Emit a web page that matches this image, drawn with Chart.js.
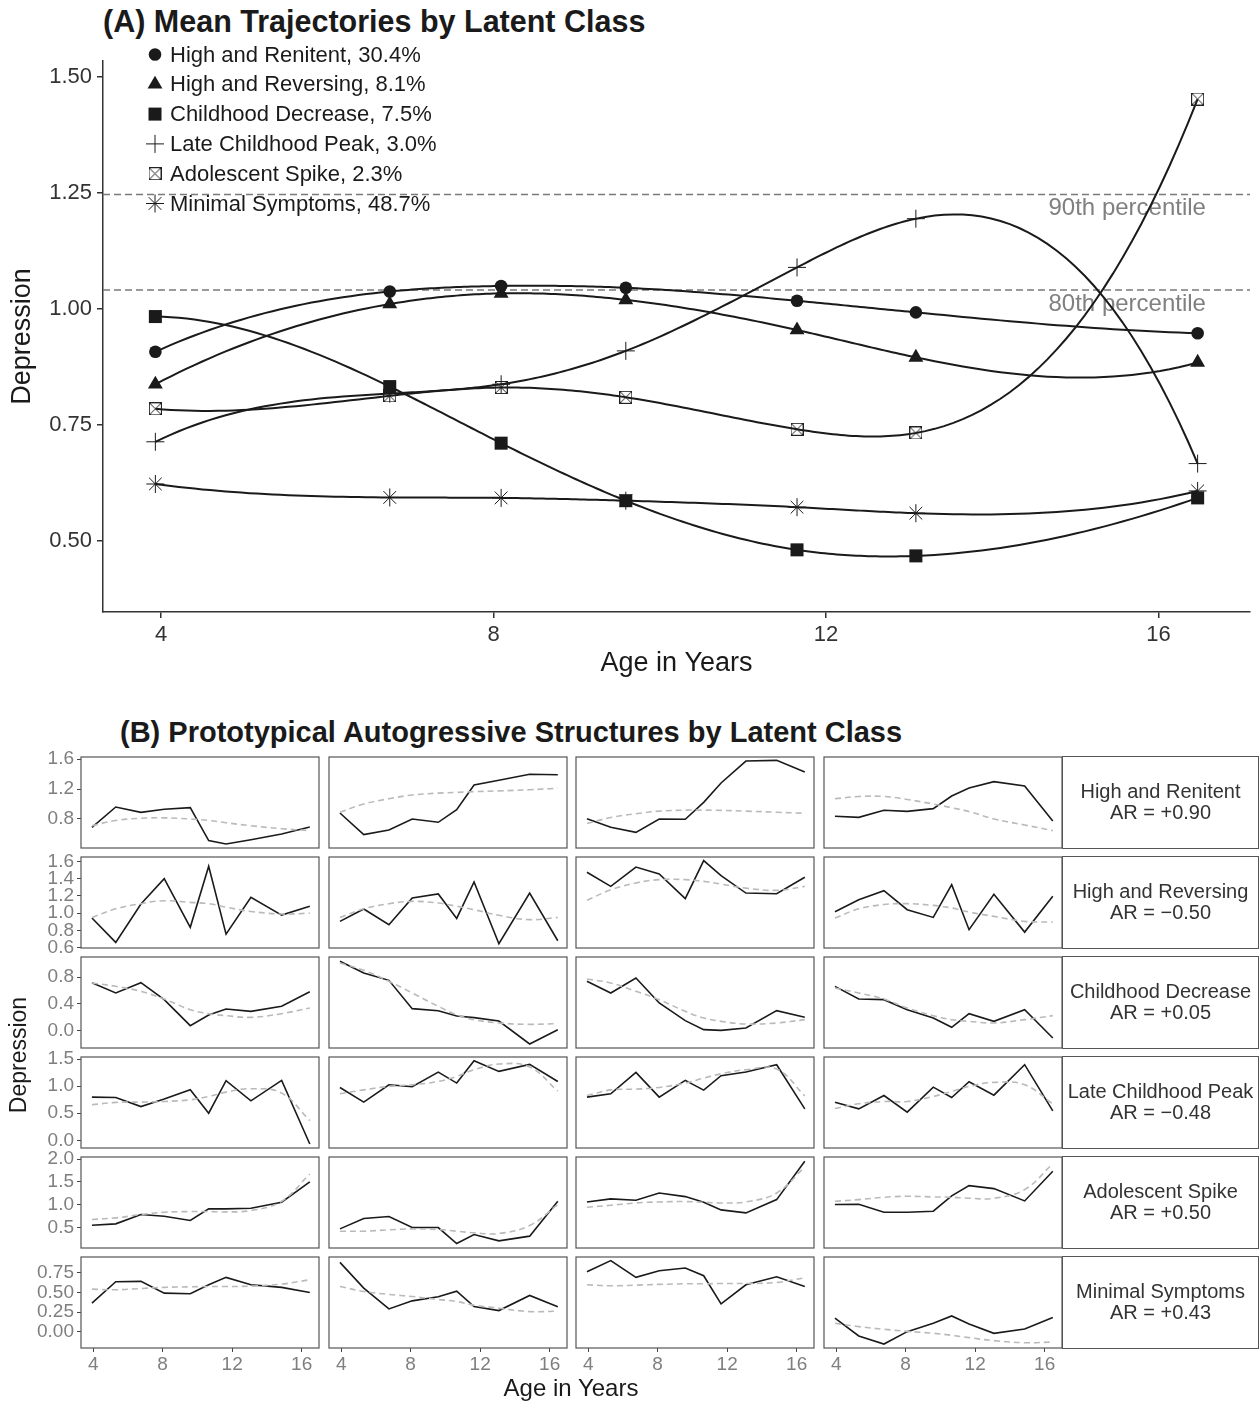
<!DOCTYPE html>
<html>
<head>
<meta charset="utf-8">
<script src="https://cdn.jsdelivr.net/npm/chart.js@4.4.1/dist/chart.umd.min.js"></script>
<style>
  body { margin: 0; background: #fff; width: 1260px; height: 1404px; position: relative; overflow: hidden;
         font-family: "Liberation Sans", Arial, sans-serif; }
  canvas { position: absolute; }
  .txt { position: absolute; white-space: nowrap; color: #1a1a1a; }
  .title { font-weight: bold; line-height: 30px; }
  .strip { position: absolute; box-sizing: border-box; border: 1.2px solid #555; display: flex;
           align-items: center; justify-content: center; text-align: center;
           font-size: 20px; line-height: 21px; color: #333; }
</style>
</head>
<body>
<div class="txt title" style="left:103px;top:6px;font-size:30.5px">(A) Mean Trajectories by Latent Class</div>
<canvas id="mainChart" width="1260" height="690" style="left:0;top:0"></canvas>
<div class="txt title" style="left:120px;top:717px;font-size:29px">(B) Prototypical Autogressive Structures by Latent Class</div>
<div id="grid"></div>
<div class="txt" style="left:-82px;top:1043px;width:200px;text-align:center;font-size:23px;line-height:24px;transform:rotate(-90deg)">Depression</div>
<div class="txt" style="left:471px;top:1376px;width:200px;text-align:center;font-size:24px;line-height:24px">Age in Years</div>

<script>
// ---------- panel A data ----------
const agesA = [3.93, 6.75, 8.09, 9.59, 11.65, 13.08, 16.47];
const highRenitent = [0.908, 1.038, 1.050, 1.046, 1.018, 0.993, 0.948];
const highReversing = [0.838, 1.011, 1.034, 1.020, 0.955, 0.896, 0.885];
const childhoodDecrease = [0.984, 0.833, 0.711, 0.587, 0.481, 0.468, 0.593];
const lateChildhoodPeak = [0.714, 0.818, 0.838, 0.910, 1.090, 1.195, 0.667];
const adolescentSpike = [0.785, 0.813, 0.831, 0.810, 0.741, 0.733, 1.453];
const minimalSymptoms = [0.623, 0.594, 0.593, 0.587, 0.573, 0.560, 0.608];
const classLabels = ["High and Renitent, 30.4%", "High and Reversing, 8.1%", "Childhood Decrease, 7.5%",
  "Late Childhood Peak, 3.0%", "Adolescent Spike, 2.3%", "Minimal Symptoms, 48.7%"];
const percentiles = [1.247, 1.041];
const percentileLabels = ["90th percentile", "80th percentile"];
const xTicksA = [4, 8, 12, 16];
const yTicksA = [0.5, 0.75, 1.0, 1.25, 1.5];

// ---------- panel B data ----------
const agesB = [3.93, 5.3, 6.75, 8.09, 9.59, 10.65, 11.65, 13.08, 14.85, 16.47];
const rowNames = ["High and Renitent", "High and Reversing", "Childhood Decrease",
  "Late Childhood Peak", "Adolescent Spike", "Minimal Symptoms"];
const rowAR = ["AR = +0.90", "AR = \u22120.50", "AR = +0.05", "AR = \u22120.48", "AR = +0.50", "AR = +0.43"];

const renitentSolid = [
  [0.689, 0.960, 0.889, 0.929, 0.951, 0.511, 0.467, 0.524, 0.600, 0.693],
  [0.880, 0.591, 0.653, 0.800, 0.756, 0.924, 1.253, 1.316, 1.396, 1.391],
  [0.804, 0.689, 0.622, 0.800, 0.796, 1.022, 1.280, 1.573, 1.582, 1.427],
  [0.836, 0.822, 0.916, 0.902, 0.938, 1.107, 1.213, 1.298, 1.240, 0.773]];
const renitentSmooth = [
  [0.71, 0.78, 0.81, 0.815, 0.80, 0.78, 0.75, 0.71, 0.67, 0.645],
  [0.89, 1.00, 1.07, 1.12, 1.145, 1.155, 1.165, 1.175, 1.19, 1.21],
  [0.74, 0.82, 0.87, 0.905, 0.918, 0.918, 0.915, 0.905, 0.89, 0.876],
  [1.07, 1.10, 1.10, 1.06, 1.0, 0.95, 0.90, 0.80, 0.72, 0.645]];
const reversingSolid = [
  [0.944, 0.662, 1.106, 1.400, 0.836, 1.542, 0.758, 1.183, 0.978, 1.079],
  [0.905, 1.048, 0.866, 1.175, 1.222, 0.940, 1.361, 0.646, 1.233, 0.681],
  [1.473, 1.310, 1.534, 1.453, 1.168, 1.608, 1.434, 1.233, 1.225, 1.415],
  [1.017, 1.156, 1.260, 1.040, 0.951, 1.330, 0.809, 1.218, 0.781, 1.195]];
const reversingSmooth = [
  [0.95, 1.05, 1.11, 1.144, 1.125, 1.11, 1.07, 1.02, 0.99, 1.0],
  [0.95, 1.05, 1.11, 1.137, 1.117, 1.08, 1.04, 0.975, 0.925, 0.95],
  [1.148, 1.27, 1.35, 1.388, 1.388, 1.368, 1.337, 1.29, 1.264, 1.31],
  [0.944, 1.05, 1.10, 1.11, 1.09, 1.06, 1.013, 0.963, 0.905, 0.897]];
const decreaseSolid = [
  [0.715, 0.56, 0.715, 0.46, 0.07, 0.23, 0.32, 0.285, 0.36, 0.58],
  [1.035, 0.86, 0.75, 0.325, 0.295, 0.215, 0.19, 0.14, -0.205, 0.01],
  [0.735, 0.56, 0.785, 0.41, 0.145, 0.01, 0.0, 0.035, 0.295, 0.195],
  [0.66, 0.47, 0.46, 0.31, 0.185, 0.045, 0.25, 0.135, 0.31, -0.115]];
const decreaseSmooth = [
  [0.71, 0.66, 0.585, 0.47, 0.31, 0.25, 0.22, 0.195, 0.25, 0.335],
  [1.01, 0.90, 0.735, 0.56, 0.36, 0.235, 0.16, 0.11, 0.09, 0.10],
  [0.77, 0.71, 0.585, 0.46, 0.285, 0.185, 0.135, 0.095, 0.11, 0.16],
  [0.635, 0.56, 0.47, 0.335, 0.22, 0.16, 0.135, 0.11, 0.16, 0.22]];
const lateSolid = [
  [0.796, 0.79, 0.623, 0.76, 0.932, 0.50, 1.099, 0.728, 1.105, -0.068],
  [0.975, 0.704, 1.025, 0.988, 1.259, 1.056, 1.469, 1.272, 1.401, 1.086],
  [0.796, 0.858, 1.253, 0.796, 1.105, 0.926, 1.191, 1.259, 1.395, 0.58],
  [0.704, 0.58, 0.827, 0.519, 0.981, 0.79, 1.08, 0.833, 1.395, 0.543]];
const lateSmooth = [
  [0.655, 0.70, 0.705, 0.716, 0.747, 0.81, 0.889, 0.951, 0.87, 0.364],
  [0.858, 0.93, 0.994, 1.025, 1.086, 1.179, 1.302, 1.407, 1.352, 0.907],
  [0.827, 0.93, 0.944, 0.975, 1.056, 1.148, 1.228, 1.302, 1.315, 0.821],
  [0.586, 0.673, 0.716, 0.716, 0.809, 0.901, 0.994, 1.068, 1.025, 0.673]];
const spikeSolid = [
  [0.547, 0.577, 0.781, 0.745, 0.65, 0.905, 0.905, 0.92, 1.051, 1.496],
  [0.467, 0.693, 0.737, 0.496, 0.496, 0.146, 0.343, 0.204, 0.307, 1.073],
  [1.058, 1.124, 1.095, 1.255, 1.175, 1.051, 0.883, 0.818, 1.109, 1.949],
  [1.0, 1.007, 0.832, 0.832, 0.854, 1.19, 1.416, 1.35, 1.08, 1.73]];
const spikeSmooth = [
  [0.672, 0.708, 0.781, 0.832, 0.847, 0.847, 0.839, 0.869, 1.073, 1.672],
  [0.416, 0.416, 0.445, 0.467, 0.453, 0.416, 0.380, 0.365, 0.540, 1.0],
  [0.942, 0.985, 1.036, 1.058, 1.066, 1.051, 1.036, 1.058, 1.255, 1.825],
  [1.073, 1.109, 1.161, 1.182, 1.168, 1.161, 1.139, 1.139, 1.328, 1.898]];
const minimalSolid = [
  [0.364, 0.636, 0.640, 0.492, 0.483, 0.597, 0.691, 0.597, 0.564, 0.50],
  [0.881, 0.555, 0.292, 0.394, 0.445, 0.517, 0.322, 0.271, 0.462, 0.318],
  [0.763, 0.903, 0.691, 0.775, 0.809, 0.712, 0.356, 0.597, 0.699, 0.576],
  [0.174, -0.051, -0.153, 0.004, 0.11, 0.203, 0.102, -0.017, 0.038, 0.182]];
const minimalSmooth = [
  [0.542, 0.534, 0.55, 0.564, 0.572, 0.576, 0.576, 0.58, 0.606, 0.661],
  [0.576, 0.513, 0.475, 0.449, 0.411, 0.386, 0.339, 0.301, 0.258, 0.263],
  [0.597, 0.585, 0.593, 0.602, 0.61, 0.61, 0.614, 0.614, 0.627, 0.686],
  [0.11, 0.068, 0.034, 0.008, -0.017, -0.042, -0.072, -0.11, -0.136, -0.127]];

const rowRanges = [[0.413, 1.627], [0.597, 1.65], [-0.265, 1.10], [-0.142, 1.537], [0.047, 2.044], [-0.203, 0.949]];
const rowTicks = [[0.8, 1.2, 1.6], [0.6, 0.8, 1.0, 1.2, 1.4, 1.6], [0.0, 0.4, 0.8],
  [0.0, 0.5, 1.0, 1.5], [0.5, 1.0, 1.5, 2.0], [0.0, 0.25, 0.5, 0.75]];
const rowDecimals = [1, 1, 1, 1, 1, 2];
const xTicksB = [4, 8, 12, 16];

Chart.defaults.font.family = '"Liberation Sans", Arial, sans-serif';

// ---------- panel A ----------
const ink = "#1a1a1a";

const boxX = document.createElement("canvas");
boxX.width = 13; boxX.height = 13;
(function () {
  const c = boxX.getContext("2d");
  c.strokeStyle = "#222"; c.lineWidth = 1;
  c.strokeRect(0.5, 0.5, 12, 12);
  c.beginPath();
  c.moveTo(0.5, 0.5); c.lineTo(12.5, 12.5);
  c.moveTo(12.5, 0.5); c.lineTo(0.5, 12.5);
  c.stroke();
})();

function toPoints(xs, ys) {
  return xs.map((x, i) => ({ x: x, y: ys[i] }));
}

const seriesA = [highRenitent, highReversing, childhoodDecrease, lateChildhoodPeak, adolescentSpike, minimalSymptoms];
const markers = [
  { pointStyle: "circle", radius: 6.3, borderWidth: 0 },
  { pointStyle: "triangle", radius: 8.6, borderWidth: 0 },
  { pointStyle: "rect", radius: 9.2, borderWidth: 0 },
  { pointStyle: "cross", radius: 9, borderWidth: 1 },
  { pointStyle: boxX, radius: 7, borderWidth: 1 },
  { pointStyle: "star", radius: 9, borderWidth: 1 },
];

const datasetsA = seriesA.map((vals, i) => ({
  label: classLabels[i],
  data: toPoints(agesA, vals),
  showLine: false,
  pointStyle: markers[i].pointStyle,
  pointRadius: markers[i].radius,
  pointBorderWidth: markers[i].borderWidth,
  pointBackgroundColor: ink,
  pointBorderColor: ink,
}));

// interpolating cubic spline with FMM end conditions (as R's spline())
function fmmCoef(x, y) {
  const n = x.length, nm1 = n - 1;
  const b = new Array(n).fill(0), c = new Array(n).fill(0), d = new Array(n).fill(0);
  d[0] = x[1] - x[0];
  c[1] = (y[1] - y[0]) / d[0];
  for (let i = 1; i < nm1; i++) {
    d[i] = x[i + 1] - x[i];
    b[i] = 2 * (d[i - 1] + d[i]);
    c[i + 1] = (y[i + 1] - y[i]) / d[i];
    c[i] = c[i + 1] - c[i];
  }
  b[0] = -d[0];
  b[nm1] = -d[n - 2];
  c[0] = c[nm1] = 0;
  if (n > 3) {
    c[0] = c[2] / (x[3] - x[1]) - c[1] / (x[2] - x[0]);
    c[nm1] = c[n - 2] / (x[nm1] - x[n - 3]) - c[n - 3] / (x[n - 2] - x[n - 4]);
    c[0] = c[0] * d[0] * d[0] / (x[3] - x[0]);
    c[nm1] = -c[nm1] * d[n - 2] * d[n - 2] / (x[nm1] - x[n - 4]);
  }
  for (let i = 1; i <= nm1; i++) {
    const t = d[i - 1] / b[i - 1];
    b[i] = b[i] - t * d[i - 1];
    c[i] = c[i] - t * c[i - 1];
  }
  c[nm1] = c[nm1] / b[nm1];
  for (let i = n - 2; i >= 0; i--) c[i] = (c[i] - d[i] * c[i + 1]) / b[i];
  b[nm1] = (y[nm1] - y[n - 2]) / d[n - 2] + d[n - 2] * (c[n - 2] + 2 * c[nm1]);
  for (let i = 0; i < nm1; i++) {
    b[i] = (y[i + 1] - y[i]) / d[i] - d[i] * (c[i + 1] + 2 * c[i]);
    d[i] = (c[i + 1] - c[i]) / d[i];
    c[i] = 3 * c[i];
  }
  c[nm1] = 3 * c[nm1];
  d[nm1] = d[n - 2];
  return { b, c, d };
}

const curvesPlugin = {
  id: "curves",
  beforeDatasetsDraw(chart) {
    const { ctx, chartArea, scales } = chart;
    const x = scales.x, y = scales.y;
    ctx.save();
    ctx.beginPath();
    ctx.rect(chartArea.left, chartArea.top, chartArea.width, chartArea.height);
    ctx.clip();

    // percentile reference lines
    ctx.setLineDash([7, 4]);
    ctx.strokeStyle = "#7a7a7a";
    ctx.lineWidth = 1.5;
    percentiles.forEach((p) => {
      const py = y.getPixelForValue(p);
      ctx.beginPath();
      ctx.moveTo(chartArea.left, py);
      ctx.lineTo(chartArea.right, py);
      ctx.stroke();
    });
    ctx.setLineDash([]);

    ctx.fillStyle = "#808080";
    ctx.font = '24px "Liberation Sans", Arial, sans-serif';
    ctx.textAlign = "right";
    ctx.textBaseline = "middle";
    percentiles.forEach((p, i) => {
      ctx.fillText(percentileLabels[i], x.getPixelForValue(16.57), y.getPixelForValue(p) + 14);
    });

    ctx.strokeStyle = ink;
    ctx.lineWidth = 2;
    chart.data.datasets.forEach((ds) => {
      const xs = ds.data.map((p) => p.x), ys = ds.data.map((p) => p.y);
      const k = fmmCoef(xs, ys);
      ctx.beginPath();
      for (let i = 0; i < xs.length - 1; i++) {
        for (let s = 0; s <= 30; s++) {
          const dx = (xs[i + 1] - xs[i]) * s / 30;
          const v = ys[i] + dx * (k.b[i] + dx * (k.c[i] + dx * k.d[i]));
          const px = x.getPixelForValue(xs[i] + dx), py = y.getPixelForValue(v);
          if (i === 0 && s === 0) ctx.moveTo(px, py); else ctx.lineTo(px, py);
        }
      }
      ctx.stroke();
    });
    ctx.restore();
  },
};

const legendPlugin = {
  id: "classLegend",
  afterDraw(chart) {
    const ctx = chart.ctx;
    ctx.save();
    chart.data.datasets.forEach((ds, i) => {
      const ly = 54.5 + i * 29.8;
      ctx.fillStyle = ink;
      ctx.strokeStyle = ink;
      ctx.lineWidth = ds.pointBorderWidth || 1;
      Chart.helpers.drawPoint(ctx, {
        pointStyle: ds.pointStyle, radius: ds.pointRadius,
        borderWidth: ds.pointBorderWidth, rotation: 0,
      }, 155, ly);
      ctx.fillStyle = ink;
      ctx.font = '22px "Liberation Sans", Arial, sans-serif';
      ctx.textAlign = "left";
      ctx.textBaseline = "middle";
      ctx.fillText(ds.label, 170, ly + 1);
    });
    ctx.restore();
  },
};

new Chart(document.getElementById("mainChart"), {
  type: "line",
  data: { datasets: datasetsA },
  options: {
    responsive: false,
    animation: false,
    events: [],
    layout: { padding: { left: 0, top: 61, right: 5, bottom: 0 } },
    plugins: { legend: { display: false }, tooltip: { enabled: false } },
    scales: {
      x: {
        type: "linear", min: 3.3, max: 17.1,
        afterBuildTicks: (s) => { s.ticks = xTicksA.map((v) => ({ value: v })); },
        afterFit: (s) => { s.height = 78; },
        ticks: { color: "#333", font: { size: 22 }, padding: 4, autoSkip: false, maxRotation: 0,
                 callback: (v) => String(v) },
        grid: { display: true, drawOnChartArea: false, tickLength: 6, color: "#333", lineWidth: 1.5 },
        border: { display: true, color: "#333", width: 1.5 },
        title: { display: true, text: "Age in Years", color: ink, font: { size: 27 }, padding: { top: 0, bottom: 10 } },
      },
      y: {
        type: "linear", min: 0.347, max: 1.535,
        afterBuildTicks: (s) => { s.ticks = yTicksA.map((v) => ({ value: v })); },
        afterFit: (s) => { s.width = 103; },
        ticks: { color: "#333", font: { size: 22 }, padding: 5, autoSkip: false,
                 callback: (v) => Number(v).toFixed(2) },
        grid: { display: true, drawOnChartArea: false, tickLength: 6, color: "#333", lineWidth: 1.5 },
        border: { display: true, color: "#333", width: 1.5 },
        title: { display: true, text: "Depression", color: ink, font: { size: 27 }, padding: { top: 6, bottom: 0 } },
      },
    },
  },
  plugins: [curvesPlugin, legendPlugin],
});

// ---------- panel B ----------
const solidRows = [renitentSolid, reversingSolid, decreaseSolid, lateSolid, spikeSolid, minimalSolid];
const smoothRows = [renitentSmooth, reversingSmooth, decreaseSmooth, lateSmooth, spikeSmooth, minimalSmooth];
const colLefts = [81, 329, 576, 824];
const rowTops = [757, 857, 957, 1057, 1157, 1257];
const boxW = 238, boxH = 91;

const framePlugin = {
  id: "frame",
  afterDraw(chart) {
    const { ctx, chartArea } = chart;
    ctx.save();
    ctx.strokeStyle = "#555";
    ctx.lineWidth = 1.2;
    ctx.strokeRect(chartArea.left, chartArea.top, chartArea.width, chartArea.height);
    ctx.restore();
  },
};

const grid = document.getElementById("grid");

rowTops.forEach((top, r) => {
  colLefts.forEach((left, c) => {
    const showX = r === 5, showY = c === 0;
    const padT = showY ? 14 : 2;
    const padB = showX ? 0 : padT;
    const cv = document.createElement("canvas");
    const cLeft = showY ? 0 : left - 2;
    const cTop = top - padT;
    const w = left + boxW + 2 - cLeft;
    const h = padT + boxH + (showX ? 40 : padB);
    cv.width = w; cv.height = h;
    cv.style.left = cLeft + "px";
    cv.style.top = cTop + "px";
    grid.appendChild(cv);

    new Chart(cv, {
      type: "line",
      data: {
        datasets: [
          { data: toPoints(agesB, smoothRows[r][c]), borderColor: "#bababa", borderDash: [6, 4],
            borderWidth: 1.6, tension: 0.4, pointRadius: 0, fill: false },
          { data: toPoints(agesB, solidRows[r][c]), borderColor: ink, borderWidth: 1.6,
            tension: 0, pointRadius: 0, fill: false },
        ],
      },
      options: {
        responsive: false,
        animation: false,
        events: [],
        layout: { padding: { left: showY ? 0 : 2, right: 2, top: padT, bottom: padB } },
        plugins: { legend: { display: false }, tooltip: { enabled: false } },
        scales: {
          x: {
            type: "linear", min: 3.3, max: 17.0, display: showX,
            afterBuildTicks: (s) => { s.ticks = xTicksB.map((v) => ({ value: v })); },
            afterFit: (s) => {
              if (showX) s.height = 40;
              s.paddingLeft = 0; s.paddingRight = 0;
            },
            ticks: { color: "#7f7f7f", font: { size: 19 }, padding: 1, autoSkip: false, maxRotation: 0,
                     callback: (v) => String(v) },
            grid: { display: true, drawOnChartArea: false, tickLength: 4, color: "#444", lineWidth: 1 },
            border: { display: false },
          },
          y: {
            type: "linear", min: rowRanges[r][0], max: rowRanges[r][1], display: showY,
            afterBuildTicks: (s) => { s.ticks = rowTicks[r].map((v) => ({ value: v })); },
            afterFit: (s) => {
              if (showY) s.width = left;
              s.paddingTop = 0; s.paddingBottom = 0;
            },
            ticks: { color: "#7f7f7f", font: { size: 19 }, padding: 3, autoSkip: false,
                     callback: (v) => Number(v).toFixed(rowDecimals[r]) },
            grid: { display: true, drawOnChartArea: false, tickLength: 4, color: "#444", lineWidth: 1 },
            border: { display: false },
          },
        },
      },
      plugins: [framePlugin],
    });
  });

  const strip = document.createElement("div");
  strip.className = "strip";
  strip.style.left = "1062px";
  strip.style.top = (top - 0.6) + "px";
  strip.style.width = "197px";
  strip.style.height = (boxH + 1.2) + "px";
  strip.innerHTML = rowNames[r] + "<br>" + rowAR[r];
  grid.appendChild(strip);
});
</script>
</body>
</html>
